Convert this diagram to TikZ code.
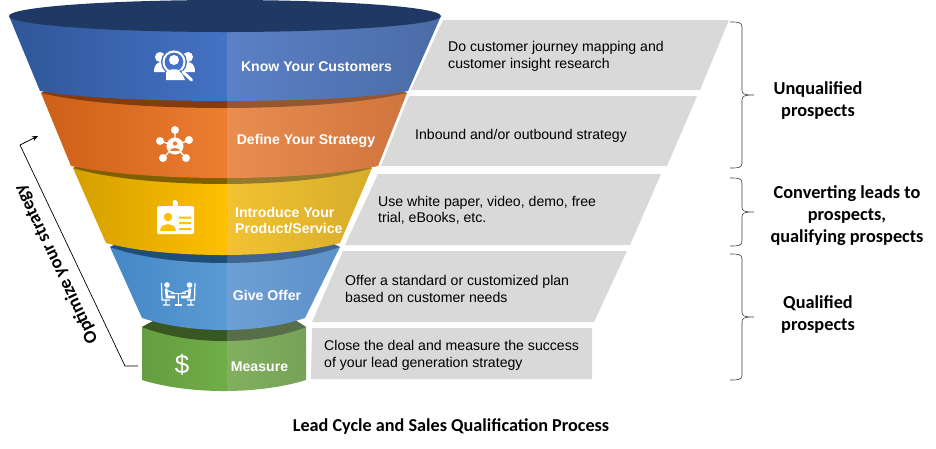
\documentclass[tikz,border=0pt]{standalone}
\usepackage{fontspec}
\setmainfont{Liberation Sans}
\newfontfamily\calib{Carlito}
\usetikzlibrary{arrows.meta}
\definecolor{panelgray}{HTML}{D9D9D9}
\definecolor{bracegray}{HTML}{404040}
\definecolor{capblue}{HTML}{203864}
\definecolor{aL}{HTML}{2F5597}\definecolor{aC}{HTML}{4472C4}\definecolor{aD}{HTML}{5B80C6}\definecolor{aR}{HTML}{4A6BA5}
\definecolor{bL}{HTML}{C55A11}\definecolor{bC}{HTML}{ED7D31}\definecolor{bD}{HTML}{E98D50}\definecolor{bR}{HTML}{C9703A}\definecolor{bM}{HTML}{843C0C}\definecolor{bN}{HTML}{96572F}
\definecolor{cL}{HTML}{BF9000}\definecolor{cC}{HTML}{FFC000}\definecolor{cD}{HTML}{F2C232}\definecolor{cR}{HTML}{C9A227}\definecolor{cM}{HTML}{7F6000}\definecolor{cN}{HTML}{947A2C}
\definecolor{dL}{HTML}{2E75B6}\definecolor{dC}{HTML}{5B9BD5}\definecolor{dD}{HTML}{6F9FD4}\definecolor{dR}{HTML}{4A83BD}\definecolor{dM}{HTML}{1F4E79}\definecolor{dN}{HTML}{3F6590}
\definecolor{eL}{HTML}{548235}\definecolor{eC}{HTML}{70AD47}\definecolor{eD}{HTML}{82B05F}\definecolor{eR}{HTML}{5F8A48}\definecolor{eM}{HTML}{385723}\definecolor{eN}{HTML}{586E48}
\tikzset{
  panel/.style={fill=panelgray,draw=none},
  desc/.style={anchor=west,align=left,inner sep=0,text=black,font=\fontsize{14.1}{16.5}\selectfont},
  bandlabel/.style={inner sep=0,text=white,align=left,font=\bfseries\fontsize{14.1}{16.5}\selectfont},
  sidelabel/.style={inner sep=0,align=center,text=black,font=\calib\bfseries\fontsize{18.3}{22}\selectfont},
  curly/.style={draw=bracegray,line width=0.6pt},
  iconw/.style={fill=white,draw=none}
}
% #1 letter prefix of colours, #2 shape, #3 rim region
\newcommand{\funnelband}[3]{%
  \begin{scope}
    \clip #2;
    \shade[left color=#1L,right color=#1C] (0,0) rectangle (227,448);
    \shade[left color=#1D,right color=#1R] (227,0) rectangle (445,448);
    \clip #3;
    \fill[#1M] (0,0) rectangle (227,448);
    \fill[#1N] (227,0) rectangle (445,448);
  \end{scope}}
% #2 top, #3 middle, #4 bottom
\newcommand{\curlybrace}[4]{%
  \draw[curly] (730,#2) .. controls (738,#2) and (742,#2) .. (742,#2+5) -- (742,#3-5)
    .. controls (742,#3-1) and (744,#3) .. (754,#3)
    .. controls (744,#3) and (742,#3+1) .. (742,#3+5) -- (742,#4-5)
    .. controls (742,#4) and (738,#4) .. (730,#4);}
\begin{document}
\begin{tikzpicture}[x=1pt,y=-1pt]
\useasboundingbox (0,0) rectangle (936,448);
\fill[white] (0,0) rectangle (936,448);
% panels
\fill[panel] (443,20) -- (729,20) -- (700,90) -- (411,90) -- cycle;
\fill[panel] (409,96) -- (697,96) -- (667,166) -- (381,166) -- cycle;
\fill[panel] (378,174) -- (661,174) -- (630,245) -- (345,245) -- cycle;
\fill[panel] (343,251) -- (627,251) -- (594,322) -- (312,322) -- cycle;
\fill[panel] (312,328) -- (592,328) -- (592,379) -- (311,379) -- cycle;
% bands, bottom-up
\funnelband{e}{(142,327) -- (142,380) .. controls (190,394.7) and (258,394.7) .. (306,380) -- (306,327) -- (295,320) -- (155,320) -- cycle}
  {(130,310) -- (320,310) -- (320,327) -- (306,327) .. controls (258,345.7) and (190,345.7) .. (142,327) -- (130,327) -- cycle}
\funnelband{d}{(110,247) -- (142,318) .. controls (190,334) and (258,334) .. (305,318) -- (340,247) -- (325,240) -- (125,240) -- cycle}
  {(100,230) -- (350,230) -- (350,247) -- (340,247) .. controls (280,268.3) and (170,268.3) .. (110,247) -- (100,247) -- cycle}
\funnelband{c}{(73,168) -- (106,243) .. controls (165,259) and (280,259) .. (340,243) -- (372,168) -- (355,160) -- (90,160) -- cycle}
  {(60,150) -- (385,150) -- (385,168) -- (372,168) .. controls (300,189.3) and (145,189.3) .. (73,168) -- (60,168) -- cycle}
\funnelband{b}{(41,93) -- (71,166) .. controls (150,182) and (300,182) .. (378,166) -- (407,93) -- (390,85) -- (60,85) -- cycle}
  {(30,75) -- (420,75) -- (420,93) -- (407,93) .. controls (320,113) and (125,113) .. (41,93) -- (30,93) -- cycle}
\begin{scope}
  \clip (9,16) -- (40,91) .. controls (110,104.3) and (340,104.3) .. (408,91) -- (441,16) -- cycle;
  \shade[left color=aL,right color=aC] (0,0) rectangle (227,448);
  \shade[left color=aD,right color=aR] (227,0) rectangle (445,448);
\end{scope}
\fill[capblue] (225,16) ellipse [x radius=216,y radius=16];
% band labels
\node[bandlabel] (know) at (316.5,67) {Know Your Customers};
\node[bandlabel] (define) at (306,141.2) {Define Your Strategy};
\node[bandlabel,anchor=west] (intro) at (235,220.6) {Introduce Your\\Product/Service};
\node[bandlabel] (give) at (267,295.5) {Give Offer};
\node[bandlabel] (measure) at (259.5,367) {Measure};
\node[inner sep=0,text=white,font=\fontsize{26}{26}\selectfont] (dollar) at (182,365) {\$};
% descriptions
\node[desc] (d1) at (448,56.5) {Do customer journey mapping and\\customer insight research};
\node[desc] (d2) at (415,136.3) {Inbound and/or outbound strategy};
\node[desc] (d3) at (378,210.2) {Use white paper, video, demo, free\\trial, eBooks, etc.};
\node[desc] (d4) at (345,288.8) {Offer a standard or customized plan\\based on customer needs};
\node[desc] (d5) at (324,355.3) {Close the deal and measure the success\\of your lead generation strategy};
% icon 1
\fill[iconw] (160,57) circle (5) (188,57) circle (5);
\fill[iconw] (154,72) .. controls (154,64) and (158,62) .. (162,62) -- (168,72) -- cycle;
\fill[iconw] (195,72) .. controls (195,64) and (191,62) .. (187,62) -- (180,72) -- cycle;
\fill[aC] (174,62) circle (13);
\draw[white,line width=2pt] (174,62) circle (10.5);
\fill[iconw] (174,60) circle (5);
\fill[iconw] (166,80) -- (166,73) .. controls (167,68) and (181,68) .. (182,73) -- (185,80) -- cycle;
\draw[aC,line width=1.6pt] (180,70.5) -- (189,80);
\draw[white,line width=3pt,line cap=round] (183,72) -- (191.5,80);
% icon 2
\draw[white,line width=1.4pt] (175,130) -- (175,146) (160,141) -- (175,146) -- (189,140) (163,158) -- (175,146) -- (186,158);
\foreach \p in {(175,130),(160,141),(189,140),(163,158),(186,158)} \fill[iconw] \p circle (4);
\fill[iconw] (175,146) circle (8.5);
\fill[bC] (175,143.5) circle (2.2);
\fill[bC] (170,151) .. controls (170,146.5) and (180,146.5) .. (180,151) -- cycle;
% icon 3
\fill[iconw,rounded corners=1.5] (157,206) rectangle (194,234);
\fill[iconw] (172.5,202) rectangle (177.5,208);
\fill[iconw] (175,202.5) circle (2.5);
\fill[cC] (168,217) circle (4.2);
\fill[cC] (160,231) .. controls (160,222) and (176,222) .. (176,231) -- cycle;
\fill[cC] (179,216.5) rectangle (191,218.5) (179,222) rectangle (191,224) (179,228) rectangle (191,230);
% icon 4
\fill[iconw] (167,285) circle (2.8) (189.5,285) circle (2.8);
\draw[white,line width=2.6pt] (166,288.5) -- (167,297) -- (175,297) (190,288.5) -- (189,297) -- (181,297);
\draw[white,line width=1.2pt] (166,290) -- (174,293) (190,290) -- (182,293);
\draw[white,line width=1.6pt] (171,293.5) -- (186,293.5) (178.5,293.5) -- (178.5,305) (175,305) -- (182,305);
\draw[white,line width=1.2pt] (161.5,283) -- (162,300) -- (170,300) (163,305) -- (170,305) (166,300) -- (166,305)
  (195,283) -- (194.5,300) -- (187,300) (187,305) -- (194,305) (191,300) -- (191,305);
% feedback arrow
\coordinate (arrstart) at (138,366);
\coordinate (arrcorner) at (125,366);
\coordinate (arrbend) at (20,145);
\coordinate (arrtip) at (38,136);
\draw[black,line width=0.7pt,-{Stealth[length=6pt,width=5pt]}] (arrstart) -- (arrcorner) -- (arrbend) -- (arrtip);
\node[inner sep=0,rotate=115.4,text=black,font=\calib\bfseries\fontsize{18.4}{20}\selectfont] (opt) at (56.5,264) {Optimize your strategy};
% braces
\curlybrace{742}{22}{95}{168}
\curlybrace{742}{178}{212}{246}
\curlybrace{742}{254}{317}{380}
\node[sidelabel] (s1) at (818,100) {Unqualified\\prospects};
\node[sidelabel] (s2) at (847,216) {Converting leads to\\prospects,\\qualifying prospects};
\node[sidelabel] (s3) at (818,314.5) {Qualified\\prospects};
\node[inner sep=0,text=black,font=\calib\bfseries\fontsize{18.2}{20}\selectfont] (title) at (451,426.5) {Lead Cycle and Sales Qualification Process};
\end{tikzpicture}
\end{document}
